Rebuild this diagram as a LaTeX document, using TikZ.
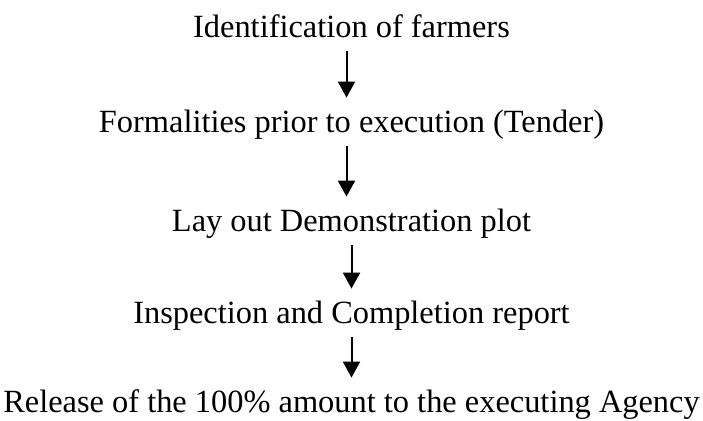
\documentclass[tikz,border=0pt]{standalone}
\usepackage{fontspec}
\setmainfont{Liberation Serif}
\usetikzlibrary{arrows.meta}

\tikzset{
    stage/.style={anchor=base,inner sep=0pt,text height=17pt,text depth=7pt,font=\fontsize{16.2}{19}\selectfont},
    flow/.style={line width=1pt,-{Triangle[length=8pt,width=8.5pt]}}
}

\begin{document}
\begin{tikzpicture}[x=0.5pt,y=-0.5pt]
        \useasboundingbox (0,0) rectangle (703,420);
        \node[stage] (ident) at (351.5,37) {Identification of farmers};
        \node[stage] (tender) at (351.5,132) {Formalities prior to execution (Tender)};
        \node[stage] (layout) at (351.5,231) {Lay out Demonstration plot};
        \node[stage] (inspect) at (351.5,323) {Inspection and Completion report};
        \node[stage] (release) at (351.5,412) {Release of the 100\% amount to the executing Agency};
        \draw[flow] ([xshift=-2.5pt]ident.south) -- ([xshift=-2.5pt]tender.north);
        \draw[flow] ([xshift=-2.5pt]tender.south) -- ([xshift=-2.5pt]layout.north);
        \draw[flow] (layout) -- (inspect);
        \draw[flow] (inspect) -- (release);
    \end{tikzpicture}
\end{document}
